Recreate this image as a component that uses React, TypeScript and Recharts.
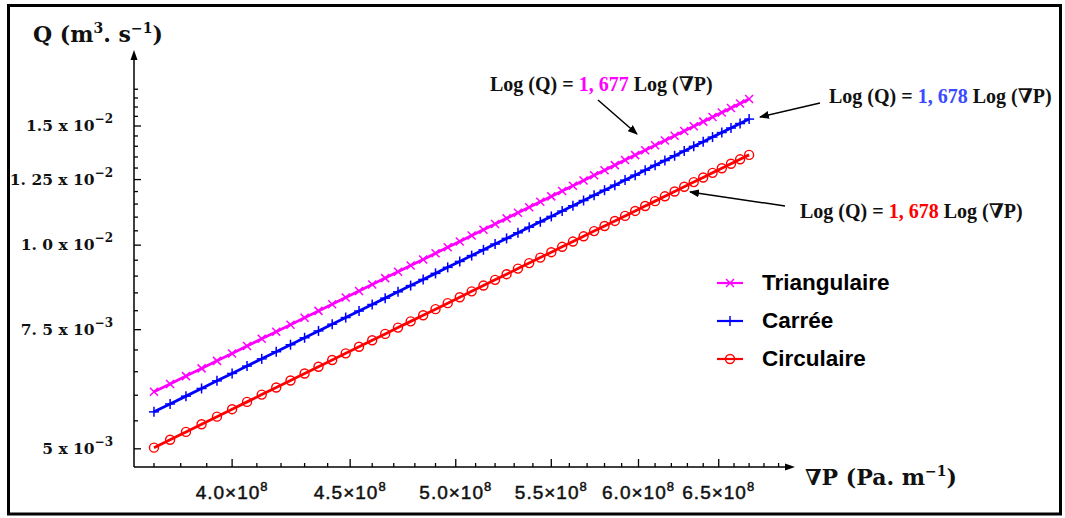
import React from "react";
import { LineChart, Line, XAxis, YAxis, Legend } from "recharts";

// ∇P values, in units of 10^8 Pa.m^-1
const pressureGradient = [
  3.70, 3.76, 3.82, 3.88, 3.94, 4.00, 4.06, 4.12, 4.18, 4.24,
  4.30, 4.36, 4.42, 4.48, 4.54, 4.60, 4.66, 4.72, 4.78, 4.84,
  4.90, 4.96, 5.02, 5.08, 5.14, 5.20, 5.26, 5.32, 5.38, 5.44,
  5.50, 5.56, 5.62, 5.68, 5.74, 5.80, 5.86, 5.92, 5.98, 6.04,
  6.10, 6.16, 6.22, 6.28, 6.34, 6.40, 6.46, 6.52, 6.58, 6.64,
  6.70,
];

// Q values, in units of 10^-3 m^3.s^-1
const qTriangulaire = [
  6.070, 6.236, 6.404, 6.574, 6.745, 6.918, 7.093, 7.270, 7.449, 7.629,
  7.811, 7.995, 8.180, 8.367, 8.556, 8.747, 8.939, 9.133, 9.329, 9.526,
  9.725, 9.926, 10.128, 10.332, 10.538, 10.745, 10.954, 11.164, 11.376, 11.590,
  11.805, 12.022, 12.241, 12.461, 12.682, 12.906, 13.130, 13.357, 13.585, 13.814,
  14.045, 14.278, 14.512, 14.748, 14.985, 15.224, 15.464, 15.705, 15.949, 16.194,
  16.440,
];
const qCarree = [
  5.670, 5.825, 5.982, 6.140, 6.301, 6.462, 6.626, 6.791, 6.958, 7.126,
  7.296, 7.468, 7.641, 7.816, 7.992, 8.171, 8.350, 8.531, 8.714, 8.898,
  9.084, 9.272, 9.461, 9.651, 9.843, 10.037, 10.232, 10.429, 10.627, 10.826,
  11.027, 11.230, 11.434, 11.640, 11.847, 12.055, 12.265, 12.477, 12.690, 12.904,
  13.120, 13.337, 13.556, 13.776, 13.997, 14.220, 14.445, 14.670, 14.898, 15.126,
  15.356,
];
const qCirculaire = [
  5.020, 5.157, 5.296, 5.436, 5.578, 5.722, 5.866, 6.013, 6.160, 6.309,
  6.460, 6.612, 6.765, 6.920, 7.076, 7.234, 7.393, 7.553, 7.715, 7.878,
  8.043, 8.209, 8.376, 8.545, 8.715, 8.886, 9.059, 9.233, 9.408, 9.585,
  9.763, 9.943, 10.123, 10.305, 10.489, 10.673, 10.859, 11.046, 11.235, 11.425,
  11.616, 11.808, 12.002, 12.197, 12.393, 12.590, 12.789, 12.989, 13.190, 13.392,
  13.596,
];

const seriesKeys = ["tri", "car", "cir"];
const seriesNames = ["Triangulaire", "Carrée", "Circulaire"];
const seriesColors = ["#ff00ff", "#0000ff", "#ff0000"];
const slopeLabels = ["1, 677", "1, 678", "1, 678"];
const slopeColors = ["#ff00ff", "#3a4bff", "#ff0000"];

const xMajorTicks = [4.0, 4.5, 5.0, 5.5, 6.0, 6.5];
const xMajorLabels = ["4.0", "4.5", "5.0", "5.5", "6.0", "6.5"];
const xMinorTicks = [
  3.7, 3.8, 3.9, 4.1, 4.2, 4.3, 4.4, 4.6, 4.7, 4.8, 4.9, 5.1, 5.2, 5.3, 5.4,
  5.6, 5.7, 5.8, 5.9, 6.1, 6.2, 6.3, 6.4, 6.6, 6.7, 6.8, 6.9,
];
const yMajorTicks = [5, 7.5, 10, 12.5, 15];
const yMantissa = ["5", "7. 5", "1. 0", "1. 25", "1.5"];
const yExponent = ["−3", "−3", "−2", "−2", "−2"];
const yMinorTicks = [
  5.5, 6, 6.5, 7, 8, 8.5, 9, 9.5, 10.5, 11, 11.5, 12, 13, 13.5, 14, 14.5,
  15.5, 16, 16.5, 17,
];

const xDomain = [3.627, 6.979];
const yDomain = [4.7, 19.1];

const data = pressureGradient.map((p, i) => ({
  p,
  tri: qTriangulaire[i],
  car: qCarree[i],
  cir: qCirculaire[i],
}));

const SERIF = "'DejaVu Serif', 'Liberation Serif', serif";
const SERIF2 = "'Liberation Serif', 'DejaVu Serif', serif";
const SANS = "'Liberation Sans', Arial, sans-serif";

const XTick = (props: any) => {
  const { x, y, payload } = props;
  const idx = xMajorTicks.indexOf(payload.value);
  const major = idx >= 0;
  return (
    <g>
      <line x1={x} y1={y} x2={x} y2={y - (major ? 8 : 4)} stroke="#000" strokeWidth={1.3} />
      {major && (
        <text
          x={x}
          y={y + 32}
          textAnchor="middle"
          fontFamily={SANS}
          fontSize={19}
          letterSpacing={1}
          fill="#111"
          stroke="#111"
          strokeWidth={0.5}
        >
          {xMajorLabels[idx]}×10
          <tspan dy={-8} fontSize={13}>8</tspan>
        </text>
      )}
    </g>
  );
};

const YTick = (props: any) => {
  const { x, y, payload } = props;
  const idx = yMajorTicks.indexOf(payload.value);
  const major = idx >= 0;
  return (
    <g>
      <line x1={x} y1={y} x2={x + (major ? 7 : 4)} y2={y} stroke="#000" strokeWidth={1.3} />
      {major && (
        <text
          x={x - 21}
          y={y + 5}
          textAnchor="end"
          fontFamily={SERIF}
          fontWeight="bold"
          fontSize={15.5}
          fill="#111"
          style={{ whiteSpace: "pre" }}
        >
          {yMantissa[idx] + " x 10"}
          <tspan dy={-8} fontSize={12}>{yExponent[idx]}</tspan>
        </text>
      )}
    </g>
  );
};

const markerShape = (kind: number, cx: number, cy: number, color: string, key?: any) => {
  if (kind === 0) {
    const s = 4;
    return (
      <g key={key}>
        <line x1={cx - s} y1={cy - s} x2={cx + s} y2={cy + s} stroke={color} strokeWidth={1.5} />
        <line x1={cx - s} y1={cy + s} x2={cx + s} y2={cy - s} stroke={color} strokeWidth={1.5} />
      </g>
    );
  }
  if (kind === 1) {
    const s = 5;
    return (
      <g key={key}>
        <line x1={cx} y1={cy - s} x2={cx} y2={cy + s} stroke={color} strokeWidth={1.5} />
        <line x1={cx - s} y1={cy} x2={cx + s} y2={cy} stroke={color} strokeWidth={1.5} />
      </g>
    );
  }
  return <circle key={key} cx={cx} cy={cy} r={4.5} fill="none" stroke={color} strokeWidth={1.4} />;
};

const makeDot = (kind: number) => (props: any) => {
  const { cx, cy, index } = props;
  if (cx == null || cy == null) return <g key={`e-${kind}-${index}`} />;
  return markerShape(kind, cx, cy, seriesColors[kind], `d-${kind}-${index}`);
};

const renderLegend = (props: any) => {
  const payload = props.payload || [];
  return (
    <div>
      {seriesNames.map((name, i) => {
        const entry = payload.find((e: any) => e.value === name);
        const color = entry ? entry.color : seriesColors[i];
        return (
          <div key={name} style={{ display: "flex", alignItems: "center", height: 38 }}>
            <svg width={52} height={38} style={{ display: "block" }}>
              <line x1={7} y1={19} x2={33} y2={19} stroke={color} strokeWidth={2.2} />
              {markerShape(i, 20, 19, color)}
            </svg>
            <span style={{ fontFamily: SANS, fontWeight: "bold", fontSize: 22.5, color: "#000" }}>{name}</span>
          </div>
        );
      })}
    </div>
  );
};

const Annotation = ({ x, y, i }: { x: number; y: number; i: number }) => (
  <text x={x} y={y} fontFamily={SERIF2} fontWeight="bold" fontSize={20} fill="#111" style={{ whiteSpace: "pre" }}>
    <tspan>{"Log (Q) = "}</tspan>
    <tspan fill={slopeColors[i]}>{slopeLabels[i]}</tspan>
    <tspan>{" Log (∇P)"}</tspan>
  </text>
);

export default function App() {
  return (
    <div style={{ position: "absolute", left: 0, top: 0, width: 1065, height: 518, background: "#fff" }}>
      <LineChart
        width={1065}
        height={518}
        data={data}
        margin={{ top: 55, right: 275, bottom: 50, left: 133 }}
      >
        <XAxis
          dataKey="p"
          type="number"
          scale="log"
          domain={xDomain}
          allowDataOverflow
          ticks={[...xMinorTicks, ...xMajorTicks]}
          interval={0}
          tickSize={0}
          tickMargin={0}
          tickLine={false}
          height={1}
          axisLine={{ stroke: "#000", strokeWidth: 1.5 }}
          tick={(p: any) => <XTick {...p} />}
        />
        <YAxis
          type="number"
          scale="log"
          domain={yDomain}
          allowDataOverflow
          ticks={[...yMinorTicks, ...yMajorTicks]}
          interval={0}
          tickSize={0}
          tickMargin={0}
          tickLine={false}
          width={1}
          axisLine={{ stroke: "#000", strokeWidth: 1.5 }}
          tick={(p: any) => <YTick {...p} />}
        />
        {seriesKeys.map((k, i) => (
          <Line
            key={k}
            dataKey={k}
            name={seriesNames[i]}
            stroke={seriesColors[i]}
            strokeWidth={2.8}
            dot={makeDot(i)}
            activeDot={false}
            isAnimationActive={false}
            type="linear"
          />
        ))}
        <Legend
          layout="vertical"
          align="center"
          verticalAlign="middle"
          content={renderLegend}
          wrapperStyle={{ left: 710, top: 264, width: 220, bottom: "auto", right: "auto" }}
        />
      </LineChart>
      <svg
        width={1065}
        height={518}
        style={{ position: "absolute", left: 0, top: 0, pointerEvents: "none" }}
      >
        <defs>
          <marker id="ah" markerWidth="10" markerHeight="8" refX="9" refY="4" orient="auto" markerUnits="userSpaceOnUse">
            <path d="M0,0 L10,4 L0,8 z" fill="#000" />
          </marker>
        </defs>
        <rect x={8.5} y={5.5} width={1052} height={508.5} fill="none" stroke="#000" strokeWidth={3} />
        {/* axis arrowheads */}
        <polygon points="134,50 130.5,60 137.5,60" fill="#000" />
        <polygon points="795,467 785,463.5 785,470.5" fill="#000" />
        {/* axis titles */}
        <text x={33} y={42} fontFamily={SERIF} fontWeight="bold" fontSize={22} fill="#111">
          Q (m<tspan dy={-9} fontSize={14}>3</tspan>
          <tspan dy={9}>. s</tspan>
          <tspan dy={-9} fontSize={14}>−1</tspan>
          <tspan dy={9}>)</tspan>
        </text>
        <text x={805} y={485} fontFamily={SERIF} fontWeight="bold" fontSize={22} fill="#111">
          ∇P (Pa. m<tspan dy={-9} fontSize={14}>−1</tspan>
          <tspan dy={9}>)</tspan>
        </text>
        {/* annotations */}
        <Annotation x={490} y={91} i={0} />
        <line x1={598} y1={100} x2={637} y2={134} stroke="#000" strokeWidth={1.5} markerEnd="url(#ah)" />
        <Annotation x={829} y={103} i={1} />
        <line x1={820} y1={103} x2={760} y2={117} stroke="#000" strokeWidth={1.5} markerEnd="url(#ah)" />
        <Annotation x={800} y={218} i={2} />
        <line x1={785} y1={206} x2={690} y2={192} stroke="#000" strokeWidth={1.5} markerEnd="url(#ah)" />
      </svg>
    </div>
  );
}
